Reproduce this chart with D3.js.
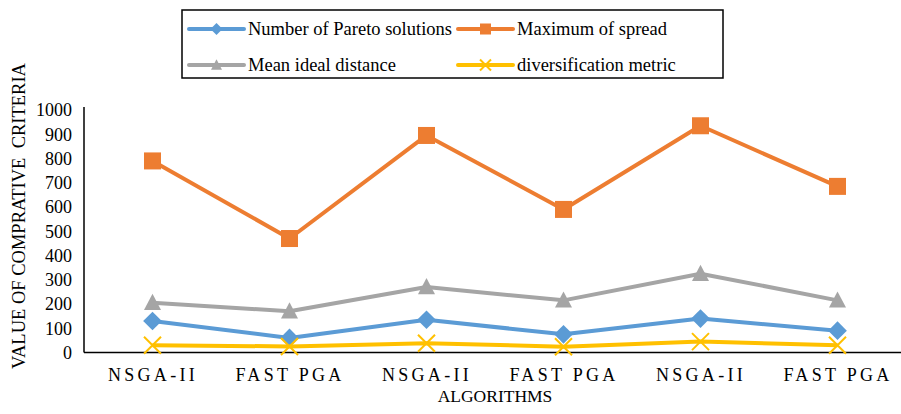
<!DOCTYPE html>
<html>
<head>
<meta charset="utf-8">
<script src="https://cdn.jsdelivr.net/npm/d3@7/dist/d3.min.js"></script>
<style>
  html, body { margin: 0; padding: 0; background: #fff; }
  svg { display: block; }
  svg text { font-family: "Liberation Serif", "Times New Roman", Times, "DejaVu Serif", serif !important; fill: #000; }
</style>
</head>
<body>
<svg id="chart" width="901" height="414"></svg>
<script>
// Algorithms compared on the x axis
const categories = ["NSGA-II", "FAST PGA", "NSGA-II", "FAST PGA", "NSGA-II", "FAST PGA"];

// Comparative criteria values per algorithm run
const paretoSolutions = [130, 60, 135, 75, 140, 90];
const maxSpread = [790, 470, 895, 590, 935, 685];
const meanIdealDistance = [205, 170, 270, 215, 325, 215];
const diversification = [30, 25, 38, 24, 45, 30];

const yTicks = [0, 100, 200, 300, 400, 500, 600, 700, 800, 900, 1000];

const series = [
  { name: "Number of Pareto solutions", values: paretoSolutions, color: "#5B9BD5", marker: "diamond" },
  { name: "Maximum of spread", values: maxSpread, color: "#ED7D31", marker: "square" },
  { name: "Mean ideal distance", values: meanIdealDistance, color: "#A5A5A5", marker: "triangle" },
  { name: "diversification metric", values: diversification, color: "#FFC000", marker: "cross" }
];

const svg = d3.select("#chart");

const plot = { left: 84, right: 906, top: 110, bottom: 352.5 };

const x = d3.scalePoint()
  .domain(d3.range(categories.length))
  .range([plot.left, plot.right])
  .padding(0.5);

const y = d3.scaleLinear()
  .domain([0, 1000])
  .range([plot.bottom, plot.top]);

// Y axis tick labels
const yAxis = d3.axisLeft(y).tickValues(yTicks).tickSize(0).tickPadding(12).tickFormat(d3.format("d"));
const gy = svg.append("g").attr("transform", `translate(${plot.left},0)`).call(yAxis);
gy.select(".domain").remove();
gy.selectAll("text").attr("font-size", 18);

// X axis tick labels
const xAxis = d3.axisBottom(x).tickSize(0).tickPadding(16).tickFormat(i => categories[i]);
const gx = svg.append("g").attr("transform", `translate(0,${plot.bottom})`).call(xAxis);
gx.select(".domain").remove();
gx.selectAll("text")
  .attr("font-size", 18)
  .attr("letter-spacing", "3.3px");

// Axis lines
svg.append("line")
  .attr("x1", plot.left).attr("x2", plot.left)
  .attr("y1", plot.top - 3).attr("y2", plot.bottom)
  .attr("stroke", "#000").attr("stroke-width", 1.5);
svg.append("line")
  .attr("x1", plot.left).attr("x2", 901)
  .attr("y1", plot.bottom).attr("y2", plot.bottom)
  .attr("stroke", "#000").attr("stroke-width", 1.5);

// Axis titles
svg.append("text")
  .attr("x", (plot.left + plot.right) / 2)
  .attr("y", 402)
  .attr("text-anchor", "middle")
  .attr("font-size", 17.5)
  .text("ALGORITHMS");

svg.append("text")
  .attr("transform", "translate(25,216) rotate(-90)")
  .attr("text-anchor", "middle")
  .attr("font-size", 18.5)
  .style("white-space", "pre")
  .text("VALUE OF COMPRATIVE  CRITERIA");

// Marker drawing helper
function drawMarker(g, type, color, cx, cy, s) {
  if (type === "diamond") {
    const r = s * 0.55;
    g.append("path")
      .attr("d", `M${cx},${cy - r}L${cx + r},${cy}L${cx},${cy + r}L${cx - r},${cy}Z`)
      .attr("fill", color);
  } else if (type === "square") {
    const h = s / 2;
    g.append("rect")
      .attr("x", cx - h).attr("y", cy - h)
      .attr("width", s).attr("height", s)
      .attr("fill", color);
  } else if (type === "triangle") {
    const h = s / 2;
    g.append("path")
      .attr("d", `M${cx},${cy - h * 1.05}L${cx + h},${cy + h * 0.85}L${cx - h},${cy + h * 0.85}Z`)
      .attr("fill", color);
  } else if (type === "cross") {
    const h = s / 2;
    g.append("path")
      .attr("d", `M${cx - h},${cy - h}L${cx + h},${cy + h}M${cx - h},${cy + h}L${cx + h},${cy - h}`)
      .attr("stroke", color).attr("stroke-width", 2).attr("fill", "none");
  }
}

const line = d3.line().x((d, i) => x(i)).y(d => y(d));

// Series lines with their markers
const gSeries = svg.append("g");
series.forEach(s => {
  gSeries.append("path")
    .datum(s.values)
    .attr("d", line)
    .attr("fill", "none")
    .attr("stroke", s.color)
    .attr("stroke-width", 4)
    .attr("stroke-linejoin", "round");
  const gm = gSeries.append("g");
  s.values.forEach((v, i) => drawMarker(gm, s.marker, s.color, x(i), y(v), 17));
});

// Legend
const legend = svg.append("g");
legend.append("rect")
  .attr("x", 182).attr("y", 10)
  .attr("width", 541).attr("height", 68)
  .attr("fill", "#fff").attr("stroke", "#000").attr("stroke-width", 1.5);

const legendPos = [
  { lx: 189, ly: 29 },
  { lx: 458, ly: 29 },
  { lx: 189, ly: 65 },
  { lx: 458, ly: 65 }
];
series.forEach((s, i) => {
  const p = legendPos[i];
  legend.append("line")
    .attr("x1", p.lx).attr("x2", p.lx + 55)
    .attr("y1", p.ly).attr("y2", p.ly)
    .attr("stroke", s.color).attr("stroke-width", 4).attr("stroke-linecap", "round");
  drawMarker(legend, s.marker, s.color, p.lx + 27.5, p.ly, 11);
  legend.append("text")
    .attr("x", p.lx + 59)
    .attr("y", p.ly + 6)
    .attr("font-size", 18.5)
    .text(s.name);
});
</script>
</body>
</html>
